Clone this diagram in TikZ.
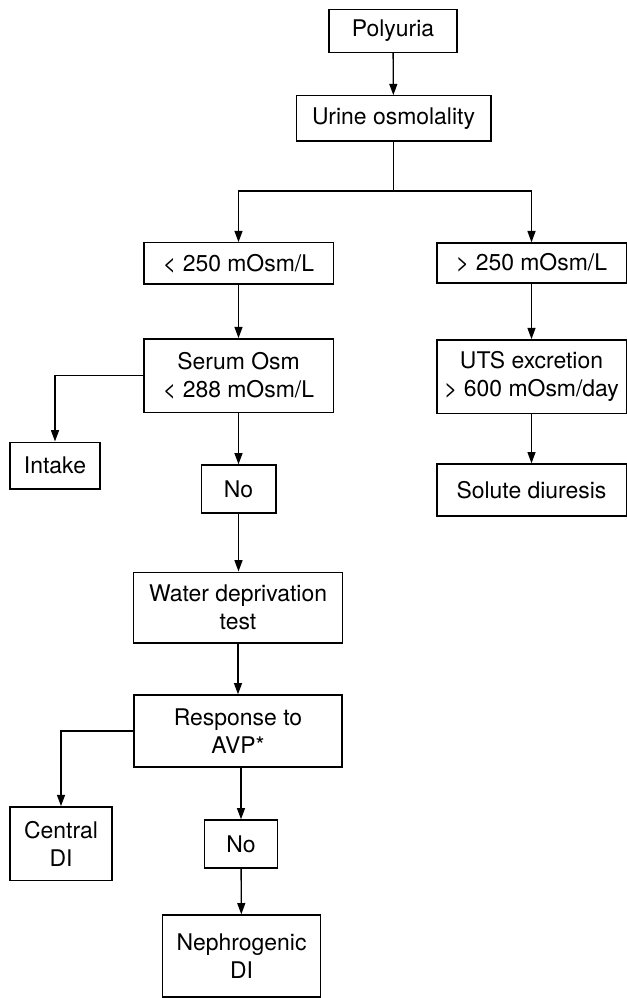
\documentclass[tikz,border=0pt]{standalone}
\usepackage{fontspec}
\setmainfont{TeX Gyre Heros}
\usetikzlibrary{arrows.meta}

\begin{document}
\begin{tikzpicture}[x=0.75pt,y=0.75pt,yscale=-1,xscale=1,
    box/.style={draw, line width=1pt, inner sep=0pt, align=center, font=\fontsize{17.2}{21}\selectfont},
    arr/.style={line width=1pt, -{Triangle[length=8.5pt,width=6pt]}},
    link/.style={line width=1pt}]
    %set diagram frame to the full page
    \useasboundingbox (0,0) rectangle (627,998);

    %Shape: top of chart
    \node [box, minimum width=96pt, minimum height=32pt] (poly) at (393,31) {Polyuria};
    \node [box, minimum width=146pt, minimum height=34pt] (urine) at (393.5,118.5) {Urine osmolality};
    \coordinate (split) at (393.5,191);

    %Shape: the two branches
    \node [box, minimum width=142pt, minimum height=31pt] (low) at (238.5,263.5) {< 250 mOsm/L};
    \node [box, minimum width=142pt, minimum height=30pt] (high) at (531.5,263) {> 250 mOsm/L};

    %Shape: left column
    \node [box, minimum width=142pt, minimum height=55pt] (serum) at (238.5,375.5) {Serum Osm\\< 288 mOsm/L};
    \node [box, minimum width=67.5pt, minimum height=35pt] (intake) at (55,465.5) {Intake};
    \node [box, minimum width=56pt, minimum height=36pt] (noA) at (238.5,489) {No};
    \node [box, minimum width=157pt, minimum height=53pt] (water) at (238,607.5) {Water deprivation\\test};
    \node [box, minimum width=156pt, minimum height=54pt] (avp) at (238,731) {Response to\\AVP*};
    \node [box, minimum width=76.5pt, minimum height=55pt] (central) at (61,843.5) {Central\\DI};
    \node [box, minimum width=55pt, minimum height=36pt] (noB) at (241,844) {No};
    \node [box, minimum width=118.5pt, minimum height=61.5pt] (neph) at (241.5,956) {Nephrogenic\\DI};

    %Shape: right column
    \node [box, minimum width=142pt, minimum height=55pt] (uts) at (531.5,376.5) {UTS excretion\\> 600 mOsm/day};
    \node [box, minimum width=142pt, minimum height=39pt] (solute) at (531.5,490) {Solute diuresis};

    %Straight Lines
    \draw [arr] (poly) -- (urine);
    \draw [link] (urine) -- (split);
    \draw [arr] (split) -| (low.north);
    \draw [arr] (split) -| (high.north);
    \draw [arr] (low) -- (serum);
    \draw [arr] (serum.west) -| (intake.north);
    \draw [arr] (serum) -- (noA);
    \draw [arr] (noA.south) -- (noA.south |- water.north);
    \draw [arr] (water) -- (avp);
    \draw [arr] (avp.west) -| (central.north);
    \draw [arr] (avp.south -| noB.north) -- (noB.north);
    \draw [arr] (noB) -- (neph);
    \draw [arr] (high) -- (uts);
    \draw [arr] (uts) -- (solute);

\end{tikzpicture}
\end{document}
